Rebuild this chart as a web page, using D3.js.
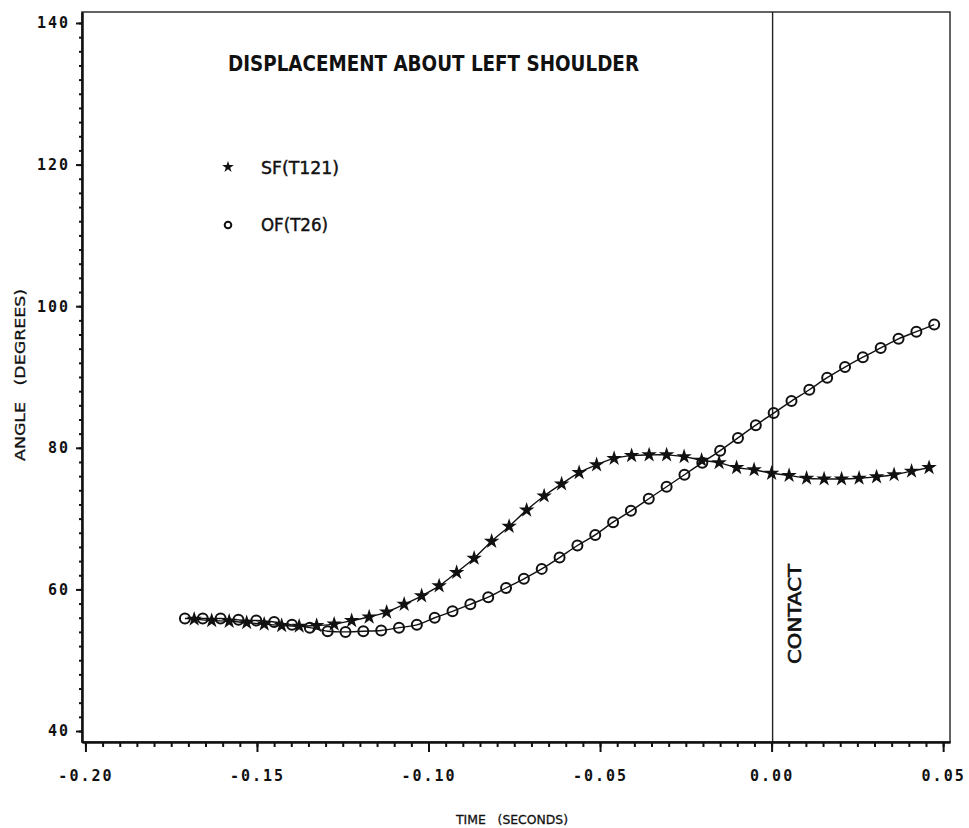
<!DOCTYPE html>
<html>
<head>
<meta charset="utf-8">
<script src="https://cdn.jsdelivr.net/npm/d3@7"></script>
<style>
  body { margin: 0; background: #fff; }
  svg { display: block; }
  .pre { white-space: pre; }
</style>
</head>
<body>
<div id="container"></div>
<script>
// SF(T121) - stars
const starTimes = [
  -0.1683, -0.1632, -0.1581, -0.1530, -0.1479, -0.1428, -0.1377, -0.1326, -0.1275, -0.1224,
  -0.1173, -0.1122, -0.1071, -0.1020, -0.0969, -0.0918, -0.0867, -0.0816, -0.0765, -0.0714,
  -0.0663, -0.0612, -0.0561, -0.0510, -0.0459, -0.0408, -0.0357, -0.0306, -0.0255, -0.0204,
  -0.0153, -0.0102, -0.0051, 0.0000, 0.0051, 0.0102, 0.0153, 0.0204, 0.0255, 0.0306,
  0.0357, 0.0408, 0.0459
];
const starAngles = [
  55.8, 55.6, 55.5, 55.3, 55.1, 54.9, 54.8, 54.9, 55.1, 55.6,
  56.1, 56.8, 57.9, 59.1, 60.5, 62.4, 64.4, 66.8, 68.9, 71.2,
  73.2, 74.9, 76.5, 77.6, 78.5, 78.9, 79.0, 79.0, 78.75, 78.25,
  77.9, 77.2, 76.9, 76.4, 76.1, 75.7, 75.6, 75.6, 75.7, 75.9,
  76.2, 76.7, 77.2
];

// OF(T26) - circles
const circleTimes = [
  -0.1710, -0.1658, -0.1606, -0.1554, -0.1502, -0.1450, -0.1398, -0.1346, -0.1294, -0.1242,
  -0.1190, -0.1138, -0.1086, -0.1034, -0.0982, -0.0930, -0.0878, -0.0826, -0.0774, -0.0722,
  -0.0670, -0.0618, -0.0566, -0.0514, -0.0462, -0.0410, -0.0358, -0.0306, -0.0254, -0.0202,
  -0.0150, -0.0098, -0.0046, 0.0006, 0.0058, 0.0110, 0.0162, 0.0214, 0.0266, 0.0318,
  0.0370, 0.0422, 0.0474
];
const circleAngles = [
  55.9, 55.9, 55.9, 55.7, 55.6, 55.4, 55.0, 54.6, 54.1, 54.0,
  54.1, 54.2, 54.6, 55.0, 56.0, 56.9, 57.9, 58.9, 60.2, 61.5,
  62.9, 64.5, 66.2, 67.7, 69.5, 71.1, 72.8, 74.5, 76.2, 77.9,
  79.6, 81.4, 83.2, 84.9, 86.6, 88.2, 89.9, 91.4, 92.8, 94.1,
  95.4, 96.4, 97.4
];

const xMajorTicks = [-0.20, -0.15, -0.10, -0.05, 0.00, 0.05];
const xTickLabels = ["-0.20", "-0.15", "-0.10", "-0.05", "0.00", "0.05"];
const yMajorTicks = [40, 60, 80, 100, 120, 140];
const xExtent = [-0.201, 0.052];
const yExtent = [38.45, 141.55];
const contactTime = 0.0;

const w = 969;
const h = 828;

const svg = d3.select('#container').append('svg')
    .attr('width', w)
    .attr('height', h);

const xScale = d3.scaleLinear().domain(xExtent).range([82, 950]);
const yScale = d3.scaleLinear().domain(yExtent).range([742, 12]);

const xMinorTicks = d3.range(0, 51).map(i => -0.20 + i * 0.005);
const yMinorTicks = d3.range(40, 141, 2);

const tickFont = "'DejaVu Sans Mono', monospace";

// frame
svg.append('rect')
    .attr('x', xScale(xExtent[0]))
    .attr('y', yScale(yExtent[1]))
    .attr('width', xScale(xExtent[1]) - xScale(xExtent[0]))
    .attr('height', yScale(yExtent[0]) - yScale(yExtent[1]))
    .attr('fill', 'none')
    .attr('stroke', '#222')
    .attr('stroke-width', 1.4);

// contact line
svg.append('line')
    .attr('x1', xScale(contactTime) + 1).attr('x2', xScale(contactTime) + 1)
    .attr('y1', yScale(yExtent[1])).attr('y2', yScale(yExtent[0]))
    .attr('stroke', '#222')
    .attr('stroke-width', 1.4);

// axes
const xMinor = d3.axisBottom(xScale).tickValues(xMinorTicks).tickSize(5).tickSizeOuter(0).tickFormat('');
const xMajor = d3.axisBottom(xScale).tickValues(xMajorTicks).tickSize(10).tickSizeOuter(0)
    .tickPadding(18).tickFormat((d, i) => xTickLabels[i]);
const yMinor = d3.axisLeft(yScale).tickValues(yMinorTicks).tickSize(3).tickSizeOuter(0).tickFormat('');
const yMajor = d3.axisLeft(yScale).tickValues(yMajorTicks).tickSize(6).tickSizeOuter(0)
    .tickPadding(6).tickFormat(d => d);

[xMinor, xMajor].forEach(ax => {
  svg.append('g')
      .attr('transform', `translate(0,${yScale(yExtent[0])})`)
      .call(ax);
});
[yMinor, yMajor].forEach(ax => {
  svg.append('g')
      .attr('transform', `translate(${xScale(xExtent[0])},0)`)
      .call(ax);
});

svg.selectAll('.domain').attr('stroke', '#111').attr('stroke-width', 2);
svg.selectAll('.tick line').attr('stroke', '#111').attr('stroke-width', 2);
svg.selectAll('.tick text')
    .attr('font-family', tickFont)
    .attr('font-weight', 'bold')
    .attr('font-size', 15)
    .attr('letter-spacing', 2)
    .attr('fill', '#111');

// series
const line = d3.line()
    .x(d => xScale(d[0]))
    .y(d => yScale(d[1]))
    .curve(d3.curveCatmullRom);

const starData = starTimes.map((t, i) => [t, starAngles[i]]);
const circleData = circleTimes.map((t, i) => [t, circleAngles[i]]);

[starData, circleData].forEach(data => {
  svg.append('path')
      .datum(data)
      .attr('d', line)
      .attr('fill', 'none')
      .attr('stroke', '#111')
      .attr('stroke-width', 1.4);
});

svg.selectAll('.circle')
    .data(circleData)
    .enter()
    .append('circle')
    .attr('class', 'circle')
    .attr('cx', d => xScale(d[0]))
    .attr('cy', d => yScale(d[1]))
    .attr('r', 5)
    .attr('fill', 'none')
    .attr('stroke', '#111')
    .attr('stroke-width', 2);

const star = d3.symbol(d3.symbolStar, 75);
svg.selectAll('.star')
    .data(starData)
    .enter()
    .append('path')
    .attr('class', 'star')
    .attr('d', star)
    .attr('transform', d => `translate(${xScale(d[0])},${yScale(d[1])})`)
    .attr('fill', '#111');

// texts
const labelFont = "'DejaVu Sans Condensed', 'DejaVu Sans', sans-serif";

svg.append('text')
    .attr('x', 228).attr('y', 71)
    .attr('font-family', labelFont)
    .attr('font-weight', 'bold')
    .attr('font-size', 21)
    .attr('textLength', 411)
    .attr('lengthAdjust', 'spacingAndGlyphs')
    .attr('fill', '#111')
    .text('DISPLACEMENT ABOUT LEFT SHOULDER');

// legend
svg.append('path')
    .attr('d', d3.symbol(d3.symbolStar, 42)())
    .attr('transform', 'translate(228,167)')
    .attr('fill', '#111');
svg.append('circle')
    .attr('cx', 228).attr('cy', 225).attr('r', 3.3)
    .attr('fill', 'none').attr('stroke', '#111').attr('stroke-width', 2);

svg.append('text')
    .attr('x', 261).attr('y', 174)
    .attr('font-family', labelFont)
    .attr('font-size', 17)
    .attr('textLength', 78)
    .attr('lengthAdjust', 'spacingAndGlyphs')
    .attr('fill', '#111')
    .attr('stroke', '#111')
    .attr('stroke-width', 0.4)
    .text('SF(T121)');
svg.append('text')
    .attr('x', 261).attr('y', 231)
    .attr('font-family', labelFont)
    .attr('font-size', 17)
    .attr('textLength', 67)
    .attr('lengthAdjust', 'spacingAndGlyphs')
    .attr('fill', '#111')
    .attr('stroke', '#111')
    .attr('stroke-width', 0.4)
    .text('OF(T26)');

// contact label
svg.append('text')
    .attr('transform', 'translate(801,614) rotate(-90)')
    .attr('text-anchor', 'middle')
    .attr('font-family', labelFont)
    .attr('font-size', 18)
    .attr('textLength', 100)
    .attr('lengthAdjust', 'spacingAndGlyphs')
    .attr('fill', '#111')
    .attr('stroke', '#111')
    .attr('stroke-width', 0.6)
    .text('CONTACT');

// axis titles
svg.append('text')
    .attr('class', 'pre')
    .attr('x', 512).attr('y', 824)
    .attr('text-anchor', 'middle')
    .attr('font-family', "'DejaVu Sans', sans-serif")
    .attr('font-size', 13)
    .attr('textLength', 112)
    .attr('lengthAdjust', 'spacingAndGlyphs')
    .attr('fill', '#111')
    .attr('stroke', '#111')
    .attr('stroke-width', 0.3)
    .text('TIME   (SECONDS)');

svg.append('text')
    .attr('class', 'pre')
    .attr('transform', 'translate(25,375) rotate(-90)')
    .attr('text-anchor', 'middle')
    .attr('font-family', "'DejaVu Sans', sans-serif")
    .attr('font-size', 14)
    .attr('textLength', 172)
    .attr('lengthAdjust', 'spacingAndGlyphs')
    .attr('fill', '#111')
    .attr('stroke', '#111')
    .attr('stroke-width', 0.3)
    .text('ANGLE   (DEGREES)');
</script>
</body>
</html>
